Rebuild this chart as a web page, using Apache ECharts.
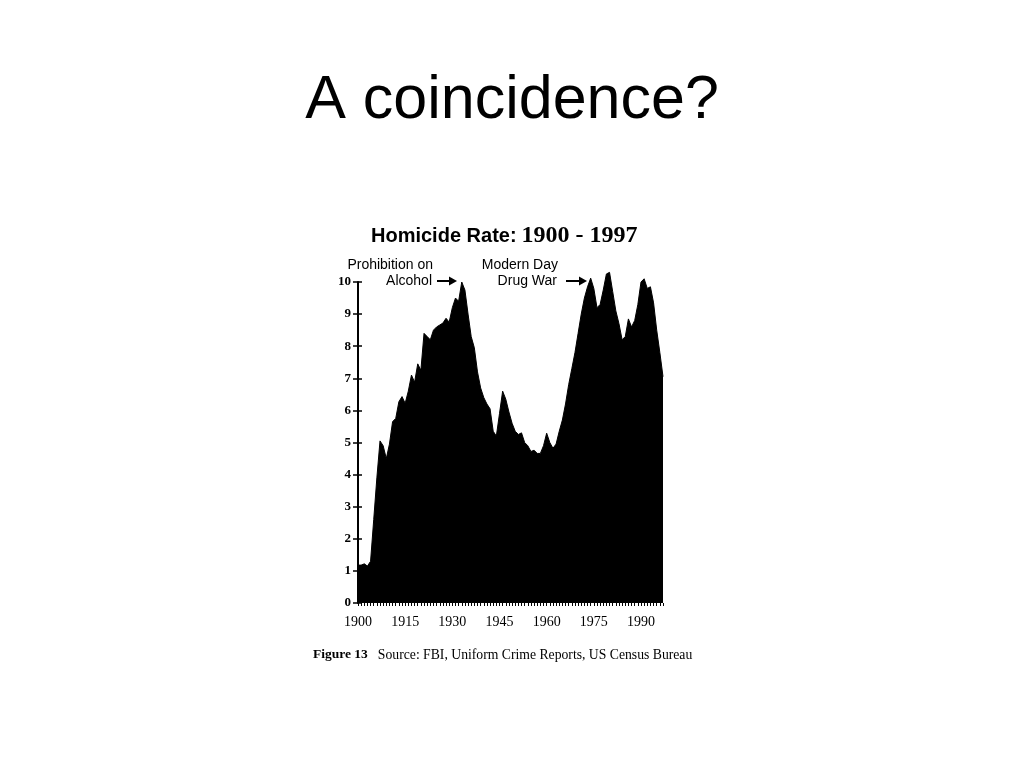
<!DOCTYPE html>
<html>
<head>
<meta charset="utf-8">
<script src="https://cdn.jsdelivr.net/npm/echarts@6/dist/echarts.min.js"></script>
<style>
html,body{margin:0;padding:0;background:#fff;}
#chart{width:1024px;height:768px;}
</style>
</head>
<body>
<div id="chart"></div>
<script>
// Years 1900..1997
var years = [];
for (var y = 1900; y <= 1997; y++) years.push(String(y));

// Homicide rate per 100,000
var rate = [
  1.18, 1.18, 1.22, 1.15, 1.30, 2.60, 3.90, 5.05, 4.90, 4.50,   // 1900-1909
  4.95, 5.65, 5.75, 6.27, 6.43, 6.22, 6.60, 7.10, 6.88, 7.45,   // 1910-1919
  7.25, 8.40, 8.30, 8.20, 8.50, 8.60, 8.66, 8.72, 8.87, 8.75,   // 1920-1929
  9.20, 9.50, 9.40, 10.00, 9.75, 9.00, 8.30, 7.95, 7.20, 6.70,  // 1930-1939
  6.40, 6.20, 6.05, 5.35, 5.20, 5.90, 6.60, 6.35, 5.95, 5.60,   // 1940-1949
  5.35, 5.25, 5.30, 5.00, 4.90, 4.72, 4.76, 4.66, 4.66, 4.90,   // 1950-1959
  5.29, 5.00, 4.82, 4.95, 5.35, 5.70, 6.20, 6.80, 7.30, 7.80,   // 1960-1969
  8.40, 9.00, 9.50, 9.85, 10.12, 9.80, 9.20, 9.30, 9.75, 10.25, // 1970-1979
  10.30, 9.70, 9.10, 8.70, 8.20, 8.30, 8.85, 8.60, 8.80, 9.30,  // 1980-1989
  10.00, 10.10, 9.80, 9.85, 9.35, 8.50, 7.80, 7.05              // 1990-1997
];

var yTicks = [0, 1, 2, 3, 4, 5, 6, 7, 8, 9, 10];
var xLabelStep = 15;

var pageTitle = 'A coincidence?';
var chartTitleSans = 'Homicide Rate:';
var chartTitleSerif = '1900 - 1997';
var note1 = ['Prohibition on', 'Alcohol'];
var note2 = ['Modern Day', 'Drug War'];
var captionBold = 'Figure 13';
var captionText = 'Source: FBI, Uniform Crime Reports, US Census Bureau';

var SANS = '"Liberation Sans", Arial, sans-serif';
var SERIF = '"Liberation Serif", "Times New Roman", serif';

var chart = echarts.init(document.getElementById('chart'));

function arrow(x1, x2, y) {
  return {
    type: 'group',
    children: [
      { type: 'line', shape: { x1: x1, y1: y, x2: x2 - 5, y2: y }, style: { stroke: '#000', lineWidth: 2 } },
      { type: 'polygon', shape: { points: [[x2 - 8, y - 4.5], [x2, y], [x2 - 8, y + 4.5]] }, style: { fill: '#000' } }
    ]
  };
}

chart.setOption({
  backgroundColor: '#fff',
  animation: false,
  title: [
    {
      text: pageTitle,
      left: 'center',
      top: 66,
      textStyle: { fontFamily: SANS, fontSize: 61, fontWeight: 'normal', color: '#000' }
    },
    {
      text: '{a|' + chartTitleSans + '} {b|' + chartTitleSerif + '}',
      left: 366,
      top: 219,
      textStyle: {
        fontWeight: 'normal',
        rich: {
          a: { fontFamily: SANS, fontSize: 20, fontWeight: 'bold', color: '#000' },
          b: { fontFamily: SERIF, fontSize: 24, fontWeight: 'bold', color: '#000' }
        }
      }
    },
    {
      text: '{a|' + captionBold + '}  {b|' + captionText + '}',
      left: 308,
      top: 641,
      textStyle: {
        fontWeight: 'normal',
        rich: {
          a: { fontFamily: SERIF, fontSize: 13.5, fontWeight: 'bold', color: '#000' },
          b: { fontFamily: SERIF, fontSize: 13.7, fontWeight: 'normal', color: '#000' }
        }
      }
    }
  ],
  grid: { left: 358, right: 361, top: 282, bottom: 165, containLabel: false },
  xAxis: {
    type: 'category',
    data: years,
    boundaryGap: false,
    axisLine: { show: false },
    axisTick: { show: true, interval: 0, length: 3, lineStyle: { color: '#000', width: 1 } },
    axisLabel: {
      interval: function (i) { return i % xLabelStep === 0; },
      fontFamily: SERIF, fontSize: 14, color: '#000', margin: 12
    },
    splitLine: { show: false }
  },
  yAxis: [
    {
      type: 'value', min: 0, max: 10, interval: 1,
      axisLine: { show: true, lineStyle: { color: '#000', width: 2 } },
      axisTick: { show: true, length: 5, lineStyle: { color: '#000', width: 1.5 } },
      axisLabel: {
        fontFamily: SERIF, fontSize: 13, fontWeight: 'bold', color: '#000', margin: 7,
        formatter: function (v) { return yTicks.indexOf(v) >= 0 ? String(v) : ''; }
      },
      splitLine: { show: false }
    },
    {
      type: 'value', min: 0, max: 10, interval: 1, position: 'left',
      axisLine: { show: false },
      axisTick: { show: true, inside: true, length: 4, lineStyle: { color: '#000', width: 1.5 } },
      axisLabel: { show: false },
      splitLine: { show: false }
    }
  ],
  series: [{
    type: 'line',
    data: rate,
    yAxisIndex: 0,
    symbol: 'none',
    clip: false,
    lineStyle: { color: '#000', width: 1 },
    areaStyle: { color: '#000', opacity: 1 }
  }],
  graphic: [
    { type: 'text', right: 1024 - 433, top: 258, style: { text: note1[0], font: '14px ' + SANS, fill: '#000', textAlign: 'right' } },
    { type: 'text', right: 1024 - 432, top: 274, style: { text: note1[1], font: '14px ' + SANS, fill: '#000', textAlign: 'right' } },
    { type: 'text', right: 1024 - 558, top: 258, style: { text: note2[0], font: '14px ' + SANS, fill: '#000', textAlign: 'right' } },
    { type: 'text', right: 1024 - 557, top: 274, style: { text: note2[1], font: '14px ' + SANS, fill: '#000', textAlign: 'right' } },
    arrow(437, 457, 281),
    arrow(566, 587, 281)
  ]
});
</script>
</body>
</html>
